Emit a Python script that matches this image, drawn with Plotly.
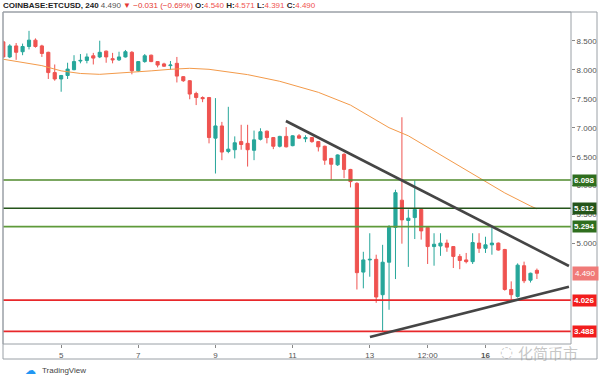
import pandas as pd
import plotly.graph_objects as go

# ---------------- data ----------------
start_time = "2019-07-03 12:00"
n_candles = 84
times = pd.date_range(start_time, periods=n_candles, freq="4h")

opens = [8.48, 8.22, 8.41, 8.31, 8.40, 8.51, 8.41, 8.30, 7.95, 7.84,
         7.90, 8.00, 8.15, 8.16, 8.24, 8.22, 8.32, 8.19, 8.17, 8.22,
         8.30, 7.98, 8.14, 8.25, 8.14, 8.10, 8.07, 8.11, 7.88, 7.81,
         7.59, 7.52, 7.52, 6.82, 7.03, 6.59, 6.62, 6.76, 6.73, 6.61,
         6.80, 6.94, 6.83, 6.68, 6.85, 6.69, 6.86, 6.81, 6.83, 6.76,
         6.68, 6.47, 6.36, 6.54, 6.28, 6.04, 4.51, 4.72, 4.73, 4.12,
         4.68, 5.28, 5.75, 5.40, 5.45, 5.59, 5.28, 4.95, 4.96, 5.01,
         4.95, 4.78, 4.72, 4.69, 5.01, 4.92, 4.98, 5.01, 4.90, 4.21,
         4.09, 4.62, 4.37, 4.540]
highs = [8.50, 8.44, 8.46, 8.45, 8.67, 8.54, 8.43, 8.31, 8.09, 7.91,
         8.12, 8.25, 8.27, 8.28, 8.29, 8.50, 8.33, 8.29, 8.31, 8.34,
         8.32, 8.15, 8.27, 8.26, 8.15, 8.12, 8.15, 8.22, 7.89, 7.82,
         7.62, 7.54, 7.53, 7.51, 7.10, 7.36, 6.85, 7.05, 7.05, 6.95,
         6.99, 6.95, 6.84, 6.86, 7.01, 6.87, 6.89, 6.87, 6.84, 6.77,
         6.69, 6.48, 6.54, 6.56, 6.29, 6.06, 4.86, 5.18, 4.81, 4.98,
         5.32, 5.93, 7.18, 5.59, 6.09, 5.60, 5.29, 5.18, 5.18, 5.07,
         4.96, 4.82, 4.84, 5.18, 5.18, 5.12, 5.27, 5.02, 4.91, 4.35,
         4.66, 4.69, 4.50, 4.571]
lows = [8.20, 8.20, 8.17, 8.25, 8.35, 8.38, 8.22, 7.84, 7.81, 7.62,
        7.84, 7.99, 8.11, 8.11, 8.09, 8.20, 8.12, 8.11, 8.15, 8.21,
        7.92, 7.96, 8.12, 8.13, 8.04, 8.05, 8.00, 7.78, 7.79, 7.49,
        7.39, 7.44, 6.73, 6.21, 6.44, 6.56, 6.47, 6.62, 6.33, 6.44,
        6.78, 6.73, 6.63, 6.66, 6.66, 6.68, 6.81, 6.75, 6.74, 6.59,
        6.36, 6.10, 6.34, 6.13, 5.97, 4.21, 4.23, 4.43, 3.98, 3.48,
        3.86, 4.39, 5.00, 4.60, 5.08, 5.07, 4.65, 4.62, 4.79, 4.86,
        4.58, 4.56, 4.66, 4.65, 4.84, 4.84, 4.81, 4.88, 4.19, 4.03,
        4.07, 4.32, 4.33, 4.391]
closes = [8.22, 8.41, 8.30, 8.40, 8.51, 8.40, 8.28, 7.95, 7.84, 7.90,
          8.01, 8.14, 8.16, 8.22, 8.20, 8.30, 8.22, 8.17, 8.22, 8.31,
          7.98, 8.14, 8.24, 8.14, 8.08, 8.06, 8.08, 7.89, 7.81, 7.58,
          7.52, 7.50, 6.83, 7.03, 6.58, 6.63, 6.74, 6.71, 6.62, 6.79,
          6.93, 6.83, 6.68, 6.85, 6.67, 6.86, 6.82, 6.83, 6.76, 6.67,
          6.44, 6.37, 6.53, 6.28, 6.07, 4.50, 4.72, 4.73, 4.08, 4.68,
          5.28, 5.88, 5.41, 5.44, 5.59, 5.22, 4.95, 4.99, 5.01, 4.94,
          4.78, 4.71, 4.69, 5.02, 4.92, 4.98, 5.01, 4.89, 4.21, 4.12,
          4.63, 4.36, 4.49, 4.490]

ma_times = ["2019-07-03 12:00", "2019-07-04 00:00", "2019-07-04 12:00", "2019-07-05 00:00",
            "2019-07-05 12:00", "2019-07-06 00:00", "2019-07-06 12:00", "2019-07-07 08:00",
            "2019-07-07 20:00", "2019-07-08 08:00", "2019-07-08 20:00", "2019-07-09 08:00",
            "2019-07-09 20:00", "2019-07-10 16:00", "2019-07-11 16:00", "2019-07-12 12:00",
            "2019-07-13 12:00", "2019-07-14 00:00", "2019-07-14 12:00", "2019-07-15 08:00",
            "2019-07-16 00:00", "2019-07-16 12:00", "2019-07-17 04:00", "2019-07-17 08:00"]
ma_values = [8.18, 8.13, 8.07, 7.98, 7.935, 7.92, 7.94, 7.98, 8.007, 8.024, 8.007, 7.957,
             7.915, 7.80, 7.61, 7.39, 7.00, 6.86, 6.66, 6.34, 6.07, 5.875, 5.65, 5.60]

# horizontal levels
level_values = [6.098, 5.612, 5.294, 4.026, 3.488]
level_labels = ["6.098", "5.612", "5.294", "4.026", "3.488"]
level_line_colors = ["#4f8a2c", "#24541a", "#5e9a3a", "#e8282b", "#e8282b"]
level_box_colors = ["#2f6e1e", "#24541a", "#2f6e1e", "#f21d1d", "#f21d1d"]

# trend lines (start/end time, price)
upper_trend_t = ["2019-07-10 19:50", "2019-07-18 03:55"]
upper_trend_p = [7.116, 4.615]
lower_trend_t = ["2019-07-13 00:07", "2019-07-18 03:55"]
lower_trend_p = [3.391, 4.259]

last_price = 4.490
last_label = "4.490"

x_tick_vals = ["2019-07-05", "2019-07-07", "2019-07-09", "2019-07-11", "2019-07-13",
               "2019-07-14 12:00", "2019-07-16"]
x_tick_text = ["5", "7", "9", "11", "13", "12:00", "<b>16</b>"]
y_tick_vals = [5.0, 5.5, 6.0, 6.5, 7.0, 7.5, 8.0, 8.5]
y_tick_text = ["5.000", "5.500", "6.000", "6.500", "7.000", "7.500", "8.000", "8.500"]

# ---------------- figure ----------------
UP = "#26a69a"
DOWN = "#ef5350"
FONT = "Liberation Sans"

fig = go.Figure()

fig.add_trace(go.Scatter(x=ma_times, y=ma_values, mode="lines",
                         line=dict(color="#f39a4a", width=1), hoverinfo="skip",
                         showlegend=False))

fig.add_trace(go.Candlestick(
    x=times, open=opens, high=highs, low=lows, close=closes,
    increasing=dict(line=dict(color=UP, width=1), fillcolor=UP),
    decreasing=dict(line=dict(color=DOWN, width=1), fillcolor=DOWN),
    showlegend=False))

shapes = []
for v, c in zip(level_values, level_line_colors):
    shapes.append(dict(type="line", xref="paper", x0=0, x1=1, yref="y", y0=v, y1=v,
                       line=dict(color=c, width=1.6), layer="above"))
shapes.append(dict(type="line", xref="x", yref="y",
                   x0=upper_trend_t[0], x1=upper_trend_t[1],
                   y0=upper_trend_p[0], y1=upper_trend_p[1],
                   line=dict(color="#454545", width=2.6)))
shapes.append(dict(type="line", xref="x", yref="y",
                   x0=lower_trend_t[0], x1=lower_trend_t[1],
                   y0=lower_trend_p[0], y1=lower_trend_p[1],
                   line=dict(color="#454545", width=2.6)))
# frames
frame_col = "#9aa0a6"
shapes.append(dict(type="rect", xref="paper", yref="paper", x0=0, x1=1, y0=0, y1=1,
                   line=dict(color=frame_col, width=1)))
shapes.append(dict(type="rect", xref="paper", yref="paper", x0=0, x1=1.0458,
                   y0=-0.0452, y1=1, line=dict(color=frame_col, width=1)))

annotations = []
for v, lab, bc in zip(level_values, level_labels, level_box_colors):
    annotations.append(dict(xref="paper", x=1.002, yref="y", y=v, text="<b>" + lab + "</b>",
                            showarrow=False, xanchor="left", yanchor="middle",
                            bgcolor=bc, borderpad=1,
                            font=dict(family=FONT, size=8, color="white")))
annotations.append(dict(xref="paper", x=1.002, yref="y", y=last_price, text=last_label,
                        showarrow=False, xanchor="left", yanchor="middle",
                        bgcolor="#f07a78", borderpad=2,
                        font=dict(family=FONT, size=8, color="white")))

header = ("<b>COINBASE:ETCUSD, 240</b> "
          "<span style='color:#555'>4.490</span> "
          "<span style='color:#e53935'>▼ −0.031 (−0.69%)</span> "
          "<b>O:</b><span style='color:#ef5350'>4.540</span> "
          "<b>H:</b><span style='color:#ef5350'>4.571</span> "
          "<b>L:</b><span style='color:#ef5350'>4.391</span> "
          "<b>C:</b><span style='color:#ef5350'>4.490</span>")
annotations.append(dict(xref="paper", yref="paper", x=-0.003, y=1.019, text=header,
                        showarrow=False, xanchor="left", yanchor="middle",
                        font=dict(family=FONT, size=8, color="#222")))
annotations.append(dict(xref="paper", yref="paper", x=0.066, y=-0.080, text="TradingView",
                        showarrow=False, xanchor="left", yanchor="middle",
                        font=dict(family=FONT, size=8, color="#444")))
annotations.append(dict(xref="paper", yref="paper", x=0.062, y=-0.080, text="☁",
                        showarrow=False, xanchor="right", yanchor="middle",
                        font=dict(family="DejaVu Sans", size=11, color="#2196f3")))
annotations.append(dict(xref="paper", yref="paper", x=0.96, y=-0.025, text="化简币市",
                        showarrow=False, xanchor="center", yanchor="middle",
                        font=dict(family="Noto Sans CJK SC", size=15, color="rgba(150,150,150,0.55)")))
annotations.append(dict(xref="paper", yref="paper", x=0.886, y=-0.025, text="◌",
                        showarrow=False, xanchor="center", yanchor="middle",
                        font=dict(family="DejaVu Sans", size=15, color="rgba(150,150,150,0.55)")))

fig.update_layout(
    width=600, height=380,
    margin=dict(l=3, r=29, t=12, b=36),
    paper_bgcolor="white", plot_bgcolor="white",
    shapes=shapes, annotations=annotations,
    showlegend=False,
    xaxis=dict(range=["2019-07-03 11:49", "2019-07-18 05:12"], type="date",
               rangeslider=dict(visible=False), showgrid=False, zeroline=False,
               tickmode="array", tickvals=x_tick_vals, ticktext=x_tick_text,
               ticks="outside", ticklen=3, tickcolor="#888",
               tickfont=dict(family=FONT, size=8, color="#555"),
               showline=False),
    yaxis=dict(range=[3.27, 8.995], side="right", showgrid=False, zeroline=False,
               tickmode="array", tickvals=y_tick_vals, ticktext=y_tick_text,
               ticks="outside", ticklen=3, tickcolor="#888",
               tickfont=dict(family=FONT, size=8, color="#555"),
               showline=False),
)

fig.write_html("out.html", config={"displayModeBar": False},
               post_script="document.body.style.margin='0';document.body.style.overflow='hidden';")
